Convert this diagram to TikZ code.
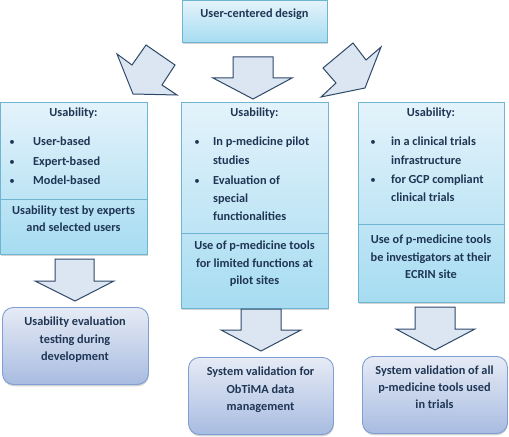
\documentclass[tikz,border=0pt]{standalone}
\usepackage{fontspec}
\setmainfont{Carlito}[BoldFont={Carlito Bold}]
\usetikzlibrary{shadows}
\definecolor{txt}{HTML}{1F3554}
\definecolor{bluebd}{HTML}{6DB5D0}
\definecolor{btop}{HTML}{E4F3FB}
\definecolor{bbot}{HTML}{A6DCF1}
\definecolor{rbd}{HTML}{7E9ED4}
\definecolor{rtop}{HTML}{E6EBF5}
\definecolor{rbot}{HTML}{A8BCE1}
\definecolor{afill}{HTML}{DCE6F2}
\definecolor{abd}{HTML}{2E4868}
\begin{document}
\begin{tikzpicture}[x=1bp,y=-1bp,
  ubox/.style={draw=bluebd, line width=0.9bp, top color=btop, bottom color=bbot, inner sep=0pt, anchor=north west,
    drop shadow={shadow xshift=0.4bp, shadow yshift=-1.6bp, opacity=0.35, fill=gray}},
  rbox/.style={draw=rbd, line width=0.9bp, top color=rtop, bottom color=rbot, inner sep=0pt, anchor=north west,
    rounded corners=11bp, drop shadow={shadow xshift=0.4bp, shadow yshift=-1.8bp, opacity=0.35, fill=gray}},
  barrow/.style={draw=abd, fill=afill, line width=1bp, line join=miter},
  divider/.style={draw=bluebd, line width=0.9bp},
  t/.style={text=txt, font=\fontsize{12.3bp}{14bp}\selectfont\bfseries, inner sep=0pt, anchor=mid},
  tl/.style={t, anchor=mid west},
  bul/.style={t, font=\fontsize{11bp}{14bp}\selectfont}
]
\useasboundingbox (0,0) rectangle (509,437);

% top box
\node[ubox, minimum width=145bp, minimum height=42bp] (top) at (182,0) {};
\node[t] (toptxt) at (254.5,15) {User-centered design};

% three upper arrows
\draw[barrow] (117,54) -- (132,65) -- (146,45) -- (175,65) -- (162,85) -- (177,95) -- (133,94) -- cycle;
\draw[barrow] (233,57) -- (273,57) -- (273,78) -- (292,78) -- (253,99) -- (213,78) -- (233,78) -- cycle;
\draw[barrow] (353,43) -- (366,60) -- (381,47) -- (365,88) -- (321,97) -- (336,83) -- (323,68) -- cycle;

% left box
\node[ubox, minimum width=147bp, minimum height=152bp] (lb) at (0,102) {};
\draw[divider] (0,199) -- (147,199);
\node[t] (l0) at (73.5,114) {Usability:};
\node[bul] (lb1) at (12,143) {•};
\node[tl] (l1) at (33,143) {User-based};
\node[bul] (lb2) at (12,163) {•};
\node[tl] (l2) at (33,163) {Expert-based};
\node[bul] (lb3) at (12,182) {•};
\node[tl] (l3) at (33,182) {Model-based};
\node[t] (l4) at (73.5,212) {Usability test by experts};
\node[t] (l5) at (73.5,229) {and selected users};

% middle box
\node[ubox, minimum width=147bp, minimum height=206bp] (mb) at (181,102) {};
\draw[divider] (181,233) -- (328,233);
\node[t] (m0) at (254.5,114) {Usability:};
\node[bul] (mb1) at (197,143) {•};
\node[tl] (m1) at (213,143) {In p-medicine pilot};
\node[tl] (m2) at (213,162) {studies};
\node[bul] (mb2) at (197,182) {•};
\node[tl] (m3) at (213,182) {Evaluation of};
\node[tl] (m4) at (213,200) {special};
\node[tl] (m5) at (213,218) {functionalities};
\node[t] (m6) at (254.5,247) {Use of p-medicine tools};
\node[t] (m7) at (254.5,265) {for limited functions at};
\node[t] (m8) at (254.5,282) {pilot sites};

% right box
\node[ubox, minimum width=146bp, minimum height=200bp] (rb) at (358,102) {};
\draw[divider] (358,224) -- (504,224);
\node[t] (r0) at (431,114) {Usability:};
\node[bul] (rb1) at (373,143) {•};
\node[tl] (r1) at (391,143) {in a clinical trials};
\node[tl] (r2) at (391,162) {infrastructure};
\node[bul] (rb2) at (373,181) {•};
\node[tl] (r3) at (391,181) {for GCP compliant};
\node[tl] (r4) at (391,199) {clinical trials};
\node[t] (r5) at (431,241) {Use of p-medicine tools};
\node[t] (r6) at (431,259) {be investigators at their};
\node[t] (r7) at (431,276) {ECRIN site};

% lower arrows
\draw[barrow] (55,259) -- (94,259) -- (94,281) -- (114,281) -- (75,301) -- (35,281) -- (55,281) -- cycle;
\draw[barrow] (241,309) -- (281,309) -- (281,330) -- (301,330) -- (261,351) -- (221,330) -- (241,330) -- cycle;
\draw[barrow] (415,307) -- (455,307) -- (455,329) -- (475,329) -- (435,350) -- (396,329) -- (415,329) -- cycle;

% bottom boxes
\node[rbox, minimum width=146bp, minimum height=77bp] (lo) at (2,307) {};
\node[t] (lo1) at (75,323) {Usability evaluation};
\node[t] (lo2) at (75,341) {testing during};
\node[t] (lo3) at (75,358) {development};

\node[rbox, minimum width=145bp, minimum height=77bp] (mo) at (188,357) {};
\node[t] (mo1) at (260.5,373) {System validation for};
\node[t] (mo2) at (260.5,391) {ObTiMA data};
\node[t] (mo3) at (260.5,408) {management};

\node[rbox, minimum width=145bp, minimum height=77bp] (ro) at (362,356) {};
\node[t] (ro1) at (434.5,372) {System validation of all};
\node[t] (ro2) at (434.5,389) {p-medicine tools used};
\node[t] (ro3) at (434.5,406) {in trials};
\end{tikzpicture}
\end{document}
